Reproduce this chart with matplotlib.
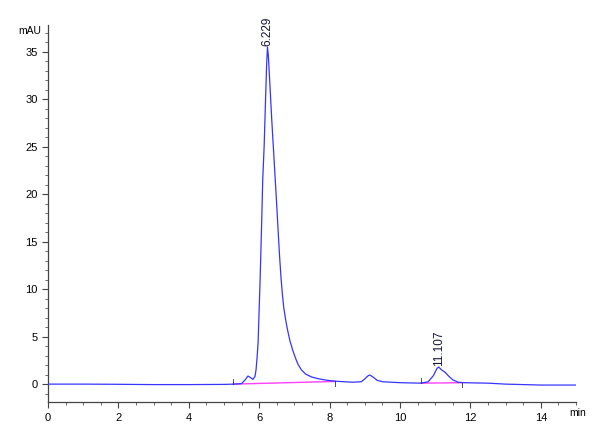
import numpy as np
from matplotlib import pyplot as plt
from matplotlib.ticker import MultipleLocator

plt.rcParams['font.family'] = ['Liberation Sans Narrow', 'Liberation Sans', 'DejaVu Sans']

# chromatogram (time in min, signal in mAU)
time = [0.0, 1.0, 2.0, 3.0, 4.0, 5.0, 5.3, 5.5, 5.6, 5.68, 5.75, 5.82, 5.88, 5.91,
        5.94, 5.97, 6.0, 6.03, 6.07, 6.1, 6.14, 6.18, 6.21, 6.235, 6.26, 6.3,
        6.36, 6.42, 6.48, 6.54, 6.58, 6.62, 6.66, 6.7, 6.75, 6.8, 6.87, 6.95, 7.02,
        7.1, 7.2, 7.32, 7.49, 7.7, 7.93, 8.2, 8.66, 8.9, 9.0, 9.1, 9.15, 9.25,
        9.35, 9.5, 10.0, 10.6, 10.8, 10.95, 11.05, 11.1, 11.18, 11.28, 11.38,
        11.5, 11.65, 11.8, 12.5, 13.0, 14.0, 15.0]
signal = [0.0, 0.0, -0.02, -0.05, -0.05, -0.03, 0.0, 0.05, 0.45, 0.85, 0.7, 0.5, 0.8, 1.5,
          2.8, 4.5, 8.0, 11.5, 17.0, 21.5, 25.0, 29.9, 33.5, 35.5, 34.6, 31.8,
          27.6, 23.8, 20.0, 16.0, 13.4, 11.2, 9.4, 8.0, 6.8, 5.8, 4.6, 3.6, 2.85,
          2.1, 1.5, 1.05, 0.75, 0.55, 0.4, 0.3, 0.2, 0.25, 0.55, 0.9, 0.95, 0.7,
          0.4, 0.25, 0.15, 0.1, 0.25, 0.9, 1.65, 1.8, 1.5, 1.25, 0.85,
          0.45, 0.2, 0.15, 0.1, 0.0, -0.1, -0.1]

# integration baselines
base_start = [5.26, 10.6]
base_end = [8.15, 11.76]
base_y0 = [0.0, 0.1]
base_y1 = [0.28, 0.15]

# peak labels
peak_rt = [6.229, 11.107]
peak_h = [35.5, 1.8]

fig, ax = plt.subplots(figsize=(6, 4.4), dpi=100)
fig.subplots_adjust(left=0.08, right=0.96, bottom=0.086, top=0.943)

ax.plot(time, signal, color="#3535ff", lw=0.9, zorder=3)
for i in range(len(base_start)):
	ax.plot([base_start[i], base_end[i]], [base_y0[i], base_y1[i]], color="#ff40ff", lw=1.0, zorder=2)
	ax.plot([base_start[i], base_start[i]], [base_y0[i], base_y0[i] + 0.5], color="#333333", lw=0.6, zorder=4)
	ax.plot([base_end[i], base_end[i]], [base_y1[i] - 0.5, base_y1[i]], color="#333333", lw=0.6, zorder=4)

for rt, h in zip(peak_rt, peak_h):
	ax.text(rt, h + 0.1, "%.3f" % rt, rotation=90, ha="center", va="bottom", fontsize=8.5, color="#111133")

ax.set_xlim(0, 15.0)
ax.set_ylim(-1.9, 37.8)
ax.xaxis.set_major_locator(MultipleLocator(2))
ax.xaxis.set_minor_locator(MultipleLocator(0.5))
ax.yaxis.set_major_locator(MultipleLocator(5))
ax.yaxis.set_minor_locator(MultipleLocator(1))
ax.spines["top"].set_visible(False)
ax.spines["right"].set_visible(False)
for s in ["left", "bottom"]:
	ax.spines[s].set_color("#444444")
	ax.spines[s].set_linewidth(0.9)
ax.tick_params(which="major", direction="out", length=4, width=0.8, color="#444444", labelsize=8)
ax.tick_params(which="minor", direction="out", length=2.5, width=0.7, color="#666666")
ax.yaxis.set_major_formatter(plt.FuncFormatter(lambda v, p: "%d" % v))

fig.text(0.068, 0.93, "mAU", fontsize=7.5, ha="right", va="center")
fig.text(0.948, 0.062, "min", fontsize=7.5, ha="left", va="center")

fig.savefig("out.png")
